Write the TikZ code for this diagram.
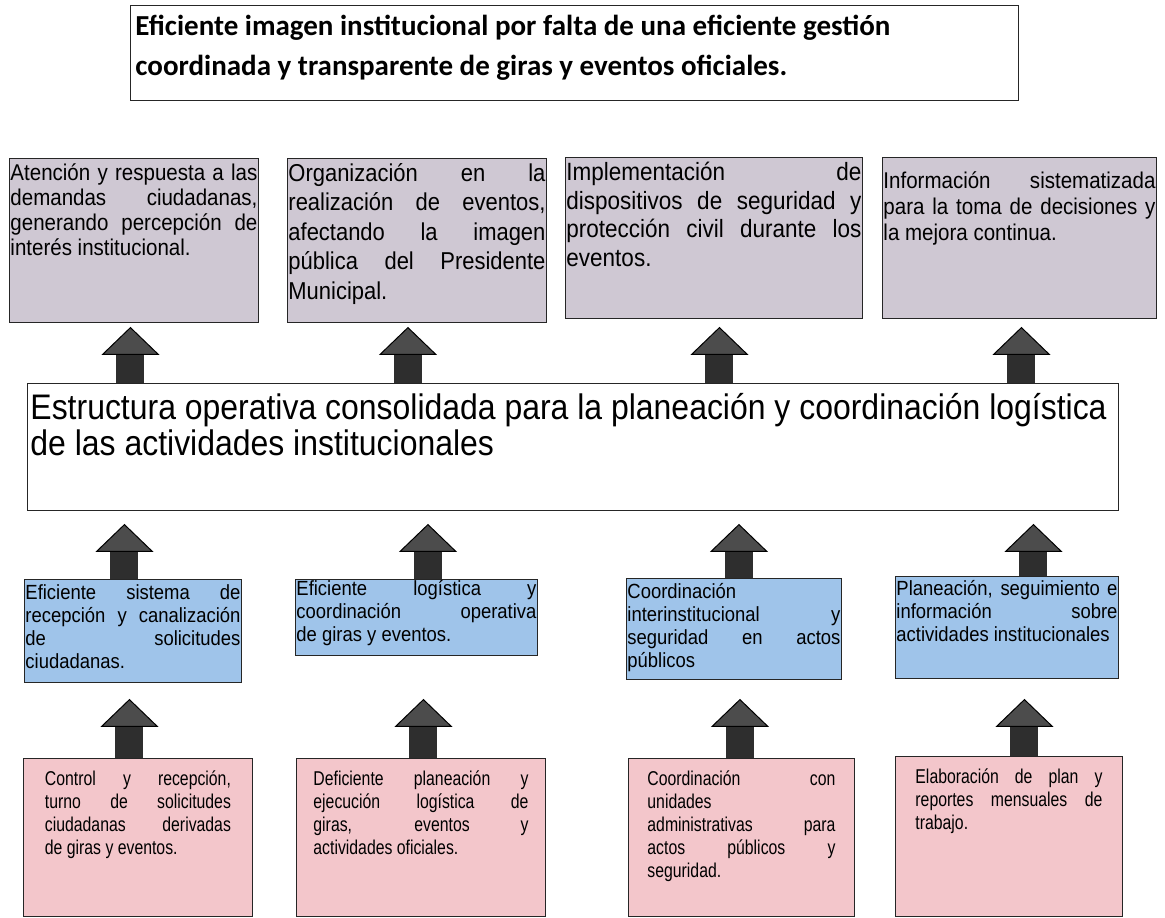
\documentclass[tikz,border=0pt]{standalone}
\usepackage{fontspec}
\setmainfont[FakeStretch=0.9]{Liberation Sans}
\newfontfamily\angostafont[FakeStretch=0.79]{Liberation Sans}
\newfontfamily\titulofont{Carlito}
\usetikzlibrary{arrows.meta}

\definecolor{efectocol}{HTML}{CFC8D3}
\definecolor{mediocol}{HTML}{9FC4EA}
\definecolor{causacol}{HTML}{F3C6CB}

% linea justificada y caja de texto (ancho, alto, texto)
\newcommand{\jl}[1]{\makebox[\linewidth][s]{#1}\\}
\newcommand{\texto}[3]{\parbox[t][#2pt][t]{#1pt}{#3}}

\begin{document}
\begin{tikzpicture}[x=1pt, y=-1pt,
  caja/.style={draw=black!85, line width=0.9pt, anchor=north west},
  efecto/.style={caja, fill=efectocol, inner xsep=1pt, inner ysep=5pt},
  medio/.style={caja, fill=mediocol, inner xsep=1pt, font=\fontsize{20.5}{23}\selectfont},
  causa/.style={caja, fill=causacol, inner ysep=12pt, font=\angostafont\fontsize{20}{23}\selectfont},
  flecha/.style={line width=28pt, draw=black!82,
    -{Triangle[width=58pt, length=28pt, line width=1pt, color=black, fill=black!70]}}]
  \useasboundingbox (0,0) rectangle (1165,918);

  % problema
  \node[caja, fill=white, inner xsep=5pt, inner ysep=10pt,
        font=\titulofont\bfseries\fontsize{29}{40}\selectfont] (problema) at (130,5)
        {\texto{878}{75}{Eficiente imagen institucional por falta de una eficiente gestión\\
         coordinada y transparente de giras y eventos oficiales.}};

  % efectos
  \node[efecto, font=\fontsize{22.8}{25}\selectfont] (efecto1) at (9,158)
        {\texto{247}{154}{\jl{Atención y respuesta a las}\jl{demandas ciudadanas,}\jl{generando percepción de}interés institucional.}};
  \node[efecto, font=\fontsize{24.4}{29.5}\selectfont] (efecto2) at (287,158)
        {\texto{257}{154}{\jl{Organización en la}\jl{realización de eventos,}\jl{afectando la imagen}\jl{pública del Presidente}Municipal.}};
  \node[efecto, font=\fontsize{25}{28.5}\selectfont] (efecto3) at (565,157)
        {\texto{295}{151}{\jl{Implementación de}\jl{dispositivos de seguridad y}\jl{protección civil durante los}eventos.}};
  \node[efecto, inner ysep=14pt, font=\fontsize{22.8}{26}\selectfont] (efecto4) at (882,157)
        {\texto{272}{133}{\jl{Información sistematizada}\jl{para la toma de decisiones y}la mejora continua.}};

  % objetivo central
  \node[caja, fill=white, inner xsep=3pt, inner ysep=10pt,
        font=\fontsize{35.5}{36}\selectfont] (estructura) at (27,383)
        {\texto{1085}{107}{Estructura operativa consolidada para la planeación y coordinación logística\\
         de las actividades institucionales}};

  % medios
  \node[medio, inner ysep=5pt] (medio1) at (24,579)
        {\texto{215}{93}{\jl{Eficiente sistema de}\jl{recepción y canalización}\jl{de solicitudes}ciudadanas.}};
  \node[medio, inner ysep=1pt] (medio2) at (295,579)
        {\texto{240}{74}{\jl{Eficiente logística y}\jl{coordinación operativa}de giras y eventos.}};
  \node[medio, inner ysep=5pt] (medio3) at (626,578)
        {\texto{213}{91}{Coordinación\\\jl{interinstitucional y}\jl{seguridad en actos}públicos}};
  \node[medio, inner ysep=4pt] (medio4) at (895,576)
        {\texto{221}{94}{\jl{Planeación, seguimiento e}\jl{información sobre}actividades institucionales}};

  % causas
  \node[causa, inner xsep=21.5pt] (causa1) at (23,758)
        {\texto{186}{134}{\jl{Control y recepción,}\jl{turno de solicitudes}\jl{ciudadanas derivadas}de giras y eventos.}};
  \node[causa, inner xsep=17pt] (causa2) at (296,758)
        {\texto{215}{134}{\jl{Deficiente planeación y}\jl{ejecución logística de}\jl{giras, eventos y}actividades oficiales.}};
  \node[causa, inner xsep=19pt] (causa3) at (628,758)
        {\texto{188}{134}{\jl{Coordinación con}unidades\\\jl{administrativas para}\jl{actos públicos y}seguridad.}};
  \node[causa, inner xsep=20pt] (causa4) at (895,756)
        {\texto{187}{136}{\jl{Elaboración de plan y}\jl{reportes mensuales de}trabajo.}};

  % flechas hacia los efectos
  \draw[flecha, shorten >=4pt] ([xshift=-3.5]efecto1.south |- estructura.north) -- ([xshift=-3.5]efecto1.south);
  \draw[flecha, shorten >=4pt] ([xshift=-9]efecto2.south |- estructura.north) -- ([xshift=-9]efecto2.south);
  \draw[flecha, shorten >=8pt] ([xshift=5.5]efecto3.south |- estructura.north) -- ([xshift=5.5]efecto3.south);
  \draw[flecha, shorten >=8pt] ([xshift=2]efecto4.south |- estructura.north) -- ([xshift=2]efecto4.south);

  % flechas de los medios
  \draw[flecha, shorten >=13pt] ([xshift=-8.5]medio1.north) -- ([xshift=-8.5]medio1.north |- estructura.south);
  \draw[flecha, shorten >=13pt] ([xshift=11.5]medio2.north) -- ([xshift=11.5]medio2.north |- estructura.south);
  \draw[flecha, shorten >=13pt] ([xshift=5]medio3.north) -- ([xshift=5]medio3.north |- estructura.south);
  \draw[flecha, shorten >=13pt] ([xshift=26.5]medio4.north) -- ([xshift=26.5]medio4.north |- estructura.south);

  % flechas de las causas
  \draw[flecha, shorten >=16pt] ([xshift=-8.5]causa1.north) -- ([xshift=-8.5]causa1.north |- medio1.south);
  \draw[flecha, shorten >=43pt] ([xshift=2.5]causa2.north) -- ([xshift=2.5]causa2.north |- medio2.south);
  \draw[flecha, shorten >=19pt] ([xshift=-1.5]causa3.north) -- ([xshift=-1.5]causa3.north |- medio3.south);
  \draw[flecha, shorten >=20pt] ([xshift=15.5]causa4.north) -- ([xshift=15.5]causa4.north |- medio4.south);
\end{tikzpicture}
\end{document}
